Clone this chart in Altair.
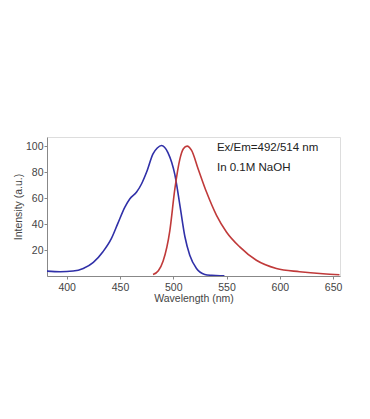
import altair as alt
import pandas as pd

# Excitation (blue) spectrum
ex_wl = [381, 394, 406, 415.5, 425, 434, 442, 448, 454.6, 459.3, 465.6, 470.3, 475, 481, 485, 489, 495, 501.5, 506.5, 511, 515.5, 521.8, 529.6, 536, 544, 548]
ex_int = [3.8, 3.3, 3.8, 5.8, 10.5, 18.7, 29, 40.5, 53, 59.5, 64.6, 71, 80, 94, 98.5, 100.5, 95, 78, 53, 30, 16, 5.8, 1.2, 0.5, 0.2, 0.2]

# Emission (red) spectrum
em_wl = [481, 486, 490.5, 496.8, 501.5, 506.2, 509.5, 513, 517.2, 523.3, 531.2, 540.6, 549.9, 562.4, 578, 596.8, 618.6, 640.5, 656]
em_int = [1.1, 4, 11.5, 35, 67, 90, 98, 100, 96.7, 82.6, 64.6, 46.7, 33.9, 22.4, 12.1, 5.8, 3.3, 1.7, 1]

series_names = ["Excitation", "Emission"]
series_colors = ["#3030a8", "#c03a3a"]

ann_text = ["Ex/Em=492/514 nm", "In 0.1M NaOH"]
ann_x = [541, 541]
ann_y = [98.5, 83]

x_ticks = [400, 450, 500, 550, 600, 650]
y_ticks = [20, 40, 60, 80, 100]

df = pd.concat([
    pd.DataFrame({"wl": ex_wl, "val": ex_int, "s": series_names[0]}),
    pd.DataFrame({"wl": em_wl, "val": em_int, "s": series_names[1]}),
])
ann = pd.DataFrame({"x": ann_x, "y": ann_y, "t": ann_text})

xscale = alt.Scale(domain=[381.5, 656.5], nice=False, zero=False)
yscale = alt.Scale(domain=[0, 107], nice=False)

xaxis = alt.Axis(values=x_ticks, grid=False, labelFontSize=10.5, titleFontSize=10.5,
                 labelColor="#444", titleColor="#444", titleFontWeight="normal",
                 tickColor="#888", domainColor="#888", tickSize=3, titlePadding=1,
                 labelPadding=3, labelOverlap=False)
yaxis = alt.Axis(values=y_ticks, grid=False, labelFontSize=10.5, titleFontSize=10.5,
                 labelColor="#444", titleColor="#444", titleFontWeight="normal",
                 tickColor="#888", domainColor="#888", tickSize=3, titlePadding=2,
                 labelPadding=1, labelOverlap=False)

lines = alt.Chart(df).mark_line(strokeWidth=1.6, clip=True, interpolate="monotone").encode(
    x=alt.X("wl:Q", scale=xscale, title="Wavelength (nm)", axis=xaxis),
    y=alt.Y("val:Q", scale=yscale, title="Intensity (a.u.)", axis=yaxis),
    color=alt.Color("s:N", scale=alt.Scale(domain=series_names, range=series_colors), legend=None),
    detail="s:N",
)

texts = alt.Chart(ann).mark_text(align="left", baseline="middle", fontSize=11.5,
                                  font="Liberation Sans", color="#222").encode(
    x=alt.X("x:Q", scale=xscale, title="Wavelength (nm)", axis=xaxis),
    y=alt.Y("y:Q", scale=yscale, title="Intensity (a.u.)", axis=yaxis),
    text="t:N",
)

chart = alt.layer(lines, texts).properties(
    width=293, height=139,
    autosize=alt.AutoSizeParams(type="none"),
    padding={"left": 39, "top": 129, "right": 22, "bottom": 135},
).configure_view(stroke="#999", strokeWidth=1).configure_axis(
    labelOverlap=False
).configure(font="Liberation Sans")

chart.save("out.html", embed_options={"renderer": "svg", "actions": False})
